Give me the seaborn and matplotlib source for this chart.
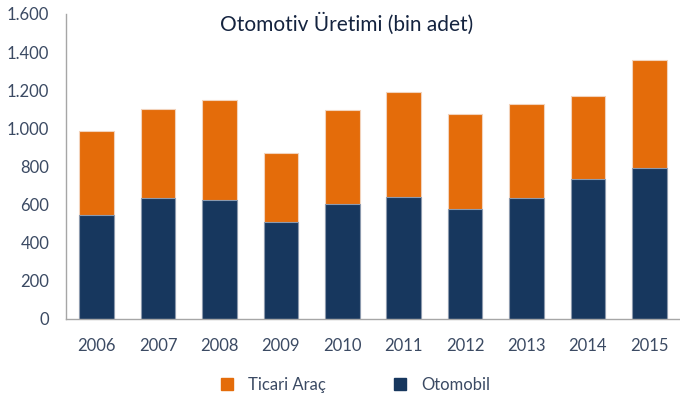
import matplotlib
matplotlib.use("Agg")
import matplotlib.pyplot as plt
from matplotlib.lines import Line2D
from matplotlib.ticker import FuncFormatter, FixedLocator
import seaborn as sns
import pandas as pd

years = ["2006", "2007", "2008", "2009", "2010", "2011", "2012", "2013", "2014", "2015"]
otomobil = [545, 634, 622, 511, 604, 639, 577, 634, 733, 791]
toplam = [988, 1099, 1147, 870, 1095, 1189, 1073, 1126, 1170, 1359]
ticari = [t - o for t, o in zip(toplam, otomobil)]

df = pd.DataFrame({"Yıl": years, "Otomobil": otomobil, "Ticari Araç": ticari, "Toplam": toplam})

sns.set_theme(style="white")
plt.rcParams["font.family"] = ["Lato", "DejaVu Sans"]

ORANGE = "#E46C0A"
NAVY = "#17375E"
TEXT = "#3B4A63"
GRID = "#A6A6A6"

fig = plt.figure(figsize=(6.8, 3.98), dpi=100)
ax = fig.add_axes([0.097, 0.1985, 0.903, 0.7665])

# stacked bars: total (orange) underneath, passenger cars (navy) on top
sns.barplot(data=df, x="Yıl", y="Toplam", color=ORANGE, width=0.565,
            edgecolor="#F2D3BC", linewidth=0.8, saturation=1, ax=ax)
sns.barplot(data=df, x="Yıl", y="Otomobil", color=NAVY, width=0.565,
            edgecolor="#8C9AAE", linewidth=0.8, saturation=1, ax=ax)

ax.set_xlim(-0.5, len(years) - 0.5)
ax.set_ylim(0, 1600)
ax.set_yticks(range(0, 1601, 200))
ax.yaxis.set_major_formatter(FuncFormatter(lambda v, p: f"{int(v):,}".replace(",", ".")))
ax.set_xlabel("")
ax.set_ylabel("")

# category ticks sit between bars; labels stay centred under each bar
ax.xaxis.set_major_locator(FixedLocator([i - 0.5 for i in range(len(years) + 1)]))
ax.xaxis.set_major_formatter(FuncFormatter(lambda v, p: ""))
ax.xaxis.set_minor_locator(FixedLocator(list(range(len(years)))))
ax.set_xticklabels(years, minor=True)
ax.tick_params(axis="x", which="major", direction="out", length=5, width=1, color=GRID)
ax.tick_params(axis="x", which="minor", length=0, pad=14, labelsize=12, labelcolor=TEXT)
ax.tick_params(axis="y", direction="out", length=5, width=1, color=GRID, pad=7,
               labelsize=12, labelcolor=TEXT)

for s in ("top", "right"):
    ax.spines[s].set_visible(False)
for s in ("left", "bottom"):
    ax.spines[s].set_color(GRID)
    ax.spines[s].set_linewidth(1)

fig.text(0.51, 0.94, "Otomotiv Üretimi (bin adet)", ha="center", va="center",
         fontsize=15, color="#14233F")

# legend entries placed individually below the axis
W = 680.0
for label, color, x_left in (("Ticari Araç", ORANGE, 221.0), ("Otomobil", NAVY, 394.0)):
    h = Line2D([], [], marker="s", linestyle="none", markersize=8, color=color, label=label)
    leg = fig.legend(handles=[h], loc="center left", bbox_to_anchor=(x_left / W, 0.033),
                     frameon=False, fontsize=12, handlelength=0.7, handletextpad=0.95,
                     borderpad=0, borderaxespad=0)
    for t in leg.get_texts():
        t.set_color(TEXT)

fig.savefig("out.png", dpi=100)
